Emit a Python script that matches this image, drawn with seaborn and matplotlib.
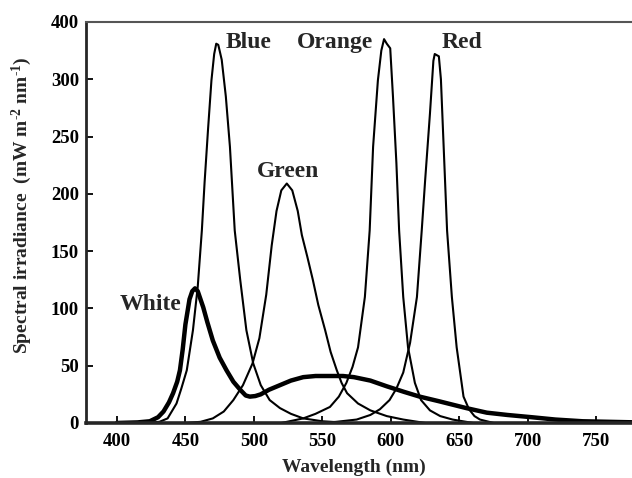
import numpy as np
import pandas as pd
import seaborn as sns
import matplotlib
matplotlib.use('Agg')
import matplotlib.pyplot as plt

# curves (wavelength nm, irradiance)
blue_nm = [420, 431, 437, 443.5, 447, 451, 455.5, 459, 462, 464, 466.5, 469, 471, 472.5, 474,
           476.5, 479.5, 482.5, 486, 490, 494.5, 499.5, 505, 511.5, 519, 527, 536, 550, 570]
blue_val = [0, 1, 4, 17, 30, 46, 81, 119, 168, 210, 256, 299, 322, 331, 330,
            317, 285, 241, 168, 125, 81, 52, 33, 20, 13, 8, 4, 1.5, 0]

green_nm = [450, 461, 470, 478, 485, 492, 499, 504, 509, 513, 516.5, 520, 524, 528, 532,
            535, 539, 543, 547, 552, 556, 560.5, 564, 568, 576, 585, 597, 609, 625]
green_val = [0, 1, 4, 10, 20, 33, 52, 74, 112, 155, 185, 203, 209, 203, 185,
             164, 145, 125, 103, 81, 62, 46, 35, 26, 17, 11, 6, 3, 0]

orange_nm = [520, 536, 545, 555.5, 562, 567.5, 572, 576, 581, 584.5, 587, 590.5, 593, 595,
             597, 599.5, 601.5, 604, 606, 609, 612.5, 617.5, 622, 628.5, 636, 645, 660]
orange_val = [0, 4, 8, 14, 23, 35, 49, 66, 110, 168, 241, 299, 325, 335,
              331, 327, 285, 227, 168, 110, 66, 35, 20, 11, 6, 3, 0]

red_nm = [550, 560, 575, 585, 592, 599, 604, 609, 614, 619, 622.5, 625, 628.5, 631, 632,
          635, 636.5, 638, 641, 644.5, 648, 653, 657, 661, 665, 675]
red_val = [0, 1, 3, 7, 12, 20, 30, 44, 70, 110, 168, 212, 270, 316, 322,
           320, 300, 256, 168, 110, 66, 23, 12, 6, 3, 0]

white_nm = [400, 415, 424, 430, 434, 438, 441, 444, 446, 448, 450, 453, 455, 457, 459, 461,
            463, 466, 470, 475, 480, 485, 490, 494, 497, 501, 505, 511, 519, 527, 536, 545,
            555, 565, 573, 585, 597, 610, 621, 635, 645, 655, 670, 685, 703, 720, 740, 760, 780]
white_val = [0, 0.5, 1.5, 5, 10, 18, 26, 36, 46, 64, 86, 108, 115, 117.5, 115, 108,
             101, 88, 72, 57, 46, 36, 29, 24, 23, 23.5, 25, 29, 33, 37, 40, 41,
             41, 41, 40, 37, 32, 27, 23, 19, 16, 13, 9, 7, 5, 3, 1.5, 1, 0.5]

led_names = ['Blue', 'Green', 'Orange', 'Red', 'White']
ytick_pos = [0, 50, 100, 150, 200, 250, 300, 350]
ytick_lab = ['0', '50', '100', '150', '200', '250', '300', '400']
xtick_pos = [400, 450, 500, 550, 600, 650, 700, 750]

frames = []
for name, nm, val in zip(led_names,
                         [blue_nm, green_nm, orange_nm, red_nm, white_nm],
                         [blue_val, green_val, orange_val, red_val, white_val]):
    frames.append(pd.DataFrame({'nm': nm, 'val': val, 'led': name}))
df = pd.concat(frames, ignore_index=True)

sns.set_style('ticks')
plt.rcParams['font.family'] = ['Liberation Serif', 'DejaVu Serif']
plt.rcParams['font.weight'] = 'bold'
plt.rcParams['mathtext.fontset'] = 'custom'
plt.rcParams['mathtext.rm'] = 'Liberation Serif:bold'
plt.rcParams['mathtext.it'] = 'Liberation Serif:bold'
plt.rcParams['mathtext.bf'] = 'Liberation Serif:bold'

fig = plt.figure(figsize=(6.32, 4.78), dpi=100)
ax = fig.add_axes([0.136, 0.1151, 0.8727, 0.839])

sns.lineplot(data=df, x='nm', y='val', hue='led', size='led',
             palette={n: 'black' for n in led_names},
             sizes={'Blue': 1.5, 'Green': 1.5, 'Orange': 1.5, 'Red': 1.5, 'White': 3.2},
             legend=False, errorbar=None, ax=ax)

ax.set_xlim(377.4, 780)
ax.set_ylim(0, 350)
ax.set_xticks(xtick_pos)
ax.set_xticklabels([str(v) for v in xtick_pos])
ax.set_yticks(ytick_pos)
ax.set_yticklabels(ytick_lab)
ax.tick_params(direction='in', length=5, width=1.3, labelsize=13.5, colors='black')
ax.tick_params(axis='x', pad=7)
ax.tick_params(axis='y', pad=5)

ax.spines['right'].set_visible(False)
ax.spines['top'].set_color('#555555')
ax.spines['top'].set_linewidth(1.5)
ax.spines['left'].set_linewidth(2)
ax.spines['bottom'].set_linewidth(2.6)

ax.set_xlabel('Wavelength (nm)', fontsize=14, fontweight='bold')
ax.xaxis.set_label_coords(0.486, -0.088)
ax.set_ylabel('Spectral irradiance  (mW m$^{\\text{-2}}$ nm$^{\\text{-1}}$)',
              fontsize=14, fontweight='bold')
ax.yaxis.set_label_coords(-0.094, 0.5435)

lab_kw = dict(fontsize=17, fontweight='bold', ha='left', va='baseline')
ax.text(479.6, 327.5, 'Blue', **lab_kw)
ax.text(531.4, 327.5, 'Orange', **lab_kw)
ax.text(637, 327.5, 'Red', **lab_kw)
ax.text(502, 215, 'Green', **lab_kw)
ax.text(402.2, 98.6, 'White', **lab_kw)

fig.savefig('out.png', dpi=100)
